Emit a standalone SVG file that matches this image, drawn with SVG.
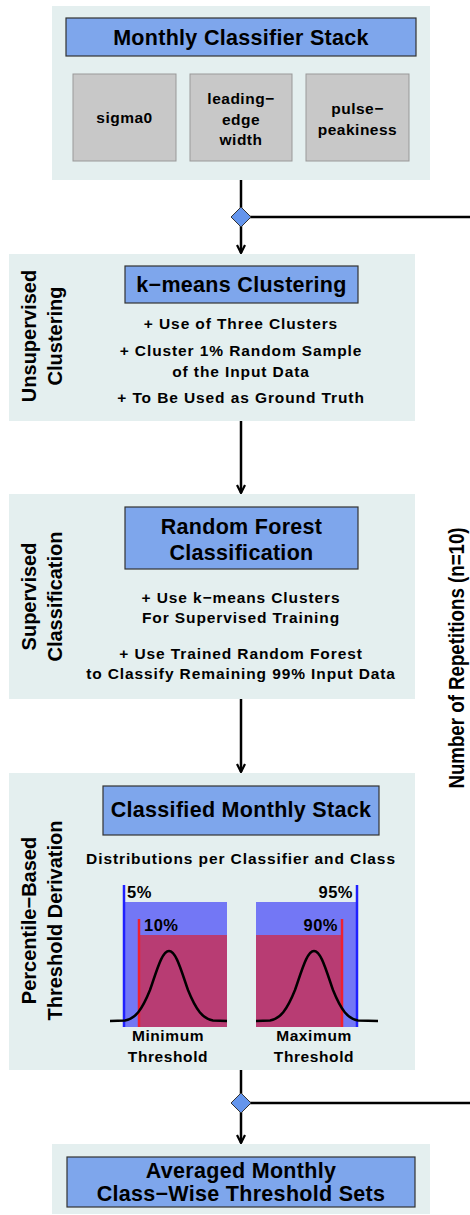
<svg xmlns="http://www.w3.org/2000/svg" width="470" height="1215" viewBox="0 0 470 1215">
<defs>
<style>
.panel{fill:#E4EFEF;}
.title{fill:#7EA6EC;stroke:#333;stroke-width:1.2;}
.gray{fill:#C8C8C8;stroke:#999;stroke-width:1;}
text{font-family:"Liberation Sans",Arial,sans-serif;font-weight:bold;fill:#000;}
.t20{font-size:21.5px;letter-spacing:0.3px;text-anchor:middle;}
.t15{font-size:15.5px;letter-spacing:0.5px;text-anchor:middle;}
.t14{font-size:15.5px;letter-spacing:0.9px;text-anchor:middle;}
.lab{font-size:15.5px;letter-spacing:0.6px;text-anchor:middle;}
.pct{font-size:16.5px;letter-spacing:0.5px;}
.side{font-size:20px;text-anchor:middle;}
.conn{stroke:#000;stroke-width:2.5;fill:none;}
.dia{fill:#6495ED;stroke:#333;stroke-width:1;}
</style>
<marker id="arr" viewBox="0 0 10 10" refX="9" refY="5" markerWidth="4" markerHeight="4" orient="auto" markerUnits="strokeWidth">
<polyline points="1,1 9,5 1,9" fill="none" stroke="#000" stroke-width="2.2"/>
</marker>
</defs>

<g id="panel-stack">
<rect class="panel" x="52" y="6" width="378" height="174"/>
<rect class="title" x="66" y="18" width="350" height="38"/>
<text class="t20" x="241" y="44.5">Monthly Classifier Stack</text>
<rect class="gray" x="73" y="74" width="103" height="87"/>
<text class="t15" x="124.5" y="122.5">sigma0</text>
<rect class="gray" x="190" y="74" width="102" height="87"/>
<text class="t15" x="241" y="103.5">leading−</text>
<text class="t15" x="241" y="124.5">edge</text>
<text class="t15" x="241" y="144.5">width</text>
<rect class="gray" x="306" y="74" width="103" height="87"/>
<text class="t15" x="357.5" y="113.5">pulse−</text>
<text class="t15" x="357.5" y="134.5">peakiness</text>
</g>

<g id="panel-kmeans">
<rect class="panel" x="9" y="254" width="406" height="167"/>
<rect class="title" x="125" y="266" width="233" height="37"/>
<text class="t20" x="241.5" y="292">k−means Clustering</text>
<text class="t14" x="241" y="328.5">+ Use of Three Clusters</text>
<text class="t14" x="241" y="355.5">+ Cluster 1% Random Sample</text>
<text class="t14" x="241" y="376.5">of the Input Data</text>
<text class="t14" x="241" y="402.5">+ To Be Used as Ground Truth</text>
<text class="side" transform="translate(35.5,336) rotate(-90)">Unsupervised</text>
<text class="side" transform="translate(62,336) rotate(-90)">Clustering</text>
</g>

<g id="panel-rf">
<rect class="panel" x="9" y="494" width="406" height="205"/>
<rect class="title" x="125" y="507" width="233" height="62"/>
<text class="t20" x="241.5" y="533.5">Random Forest</text>
<text class="t20" x="241.5" y="559.5">Classification</text>
<text class="t14" x="241" y="602.5">+ Use k−means Clusters</text>
<text class="t14" x="241" y="622.5">For Supervised Training</text>
<text class="t14" x="241" y="658.5">+ Use Trained Random Forest</text>
<text class="t14" x="241" y="678.5">to Classify Remaining 99% Input Data</text>
<text class="side" transform="translate(35.5,596.5) rotate(-90)">Supervised</text>
<text class="side" transform="translate(62,596.5) rotate(-90)">Classification</text>
</g>

<g id="panel-threshold">
<rect class="panel" x="9" y="773" width="406" height="297"/>
<rect class="title" x="103" y="786" width="276" height="49"/>
<text class="t20" x="241" y="817">Classified Monthly Stack</text>
<text class="t14" x="241" y="863.5">Distributions per Classifier and Class</text>
<text class="side" transform="translate(35.5,920.5) rotate(-90)">Percentile−Based</text>
<text class="side" transform="translate(62,920.5) rotate(-90)">Threshold Derivation</text>
<!-- left chart -->
<rect x="124" y="902" width="103" height="125" fill="#7377F5"/>
<rect x="139" y="935" width="88" height="92" fill="#B83C73"/>
<line x1="124" y1="885" x2="124" y2="1027" stroke="#2020FF" stroke-width="2.5"/>
<line x1="139" y1="919" x2="139" y2="1027" stroke="#EE2030" stroke-width="2.5"/>
<text class="pct" x="127" y="898">5%</text>
<text class="pct" x="144" y="931">10%</text>
<path d="M110,1021 L125,1020.5 C135,1019 142,1010 150,990 C157,970 162,951 169,951 C176,951 181,970 188,990 C196,1010 203,1019 213,1020.5 L227,1021" class="conn" stroke-width="2"/>
<text class="lab" x="168" y="1041">Minimum</text>
<text class="lab" x="168" y="1062">Threshold</text>
<!-- right chart -->
<rect x="256" y="902" width="102" height="125" fill="#7377F5"/>
<rect x="256" y="935" width="86" height="92" fill="#B83C73"/>
<line x1="357" y1="885" x2="357" y2="1027" stroke="#2020FF" stroke-width="2.5"/>
<line x1="342" y1="919" x2="342" y2="1027" stroke="#EE2030" stroke-width="2.5"/>
<text class="pct" x="353" y="898" style="text-anchor:end">95%</text>
<text class="pct" x="338" y="931" style="text-anchor:end">90%</text>
<path d="M256,1021 L270,1020.5 C280,1019 287,1010 295,990 C302,970 307,951 314,951 C321,951 326,970 333,990 C341,1010 348,1019 358,1020.5 L378,1021" class="conn" stroke-width="2"/>
<text class="lab" x="314" y="1041">Maximum</text>
<text class="lab" x="314" y="1062">Threshold</text>
</g>

<g id="panel-avg">
<rect class="panel" x="52" y="1144" width="378" height="70"/>
<rect class="title" x="67" y="1157" width="348" height="50"/>
<text class="t20" x="241" y="1178">Averaged Monthly</text>
<text class="t20" x="241" y="1201">Class−Wise Threshold Sets</text>
</g>

<g id="label-repetitions">
<text transform="translate(464,658) rotate(-90) scale(0.85,1)" style="font-size:22px;text-anchor:middle">Number of Repetitions (n=10)</text>
</g>

<g id="connectors">
<line class="conn" x1="241" y1="180" x2="241" y2="253" marker-end="url(#arr)"/>
<line class="conn" x1="241" y1="217" x2="470" y2="217"/>
<line class="conn" x1="241" y1="421" x2="241" y2="493" marker-end="url(#arr)"/>
<line class="conn" x1="241" y1="699" x2="241" y2="772" marker-end="url(#arr)"/>
<line class="conn" x1="241" y1="1070" x2="241" y2="1143" marker-end="url(#arr)"/>
<line class="conn" x1="241" y1="1103" x2="470" y2="1103"/>
<polygon class="dia" points="241,207 251,217 241,227 231,217"/>
<polygon class="dia" points="241,1093 251,1103 241,1113 231,1103"/>
</g>
</svg>
